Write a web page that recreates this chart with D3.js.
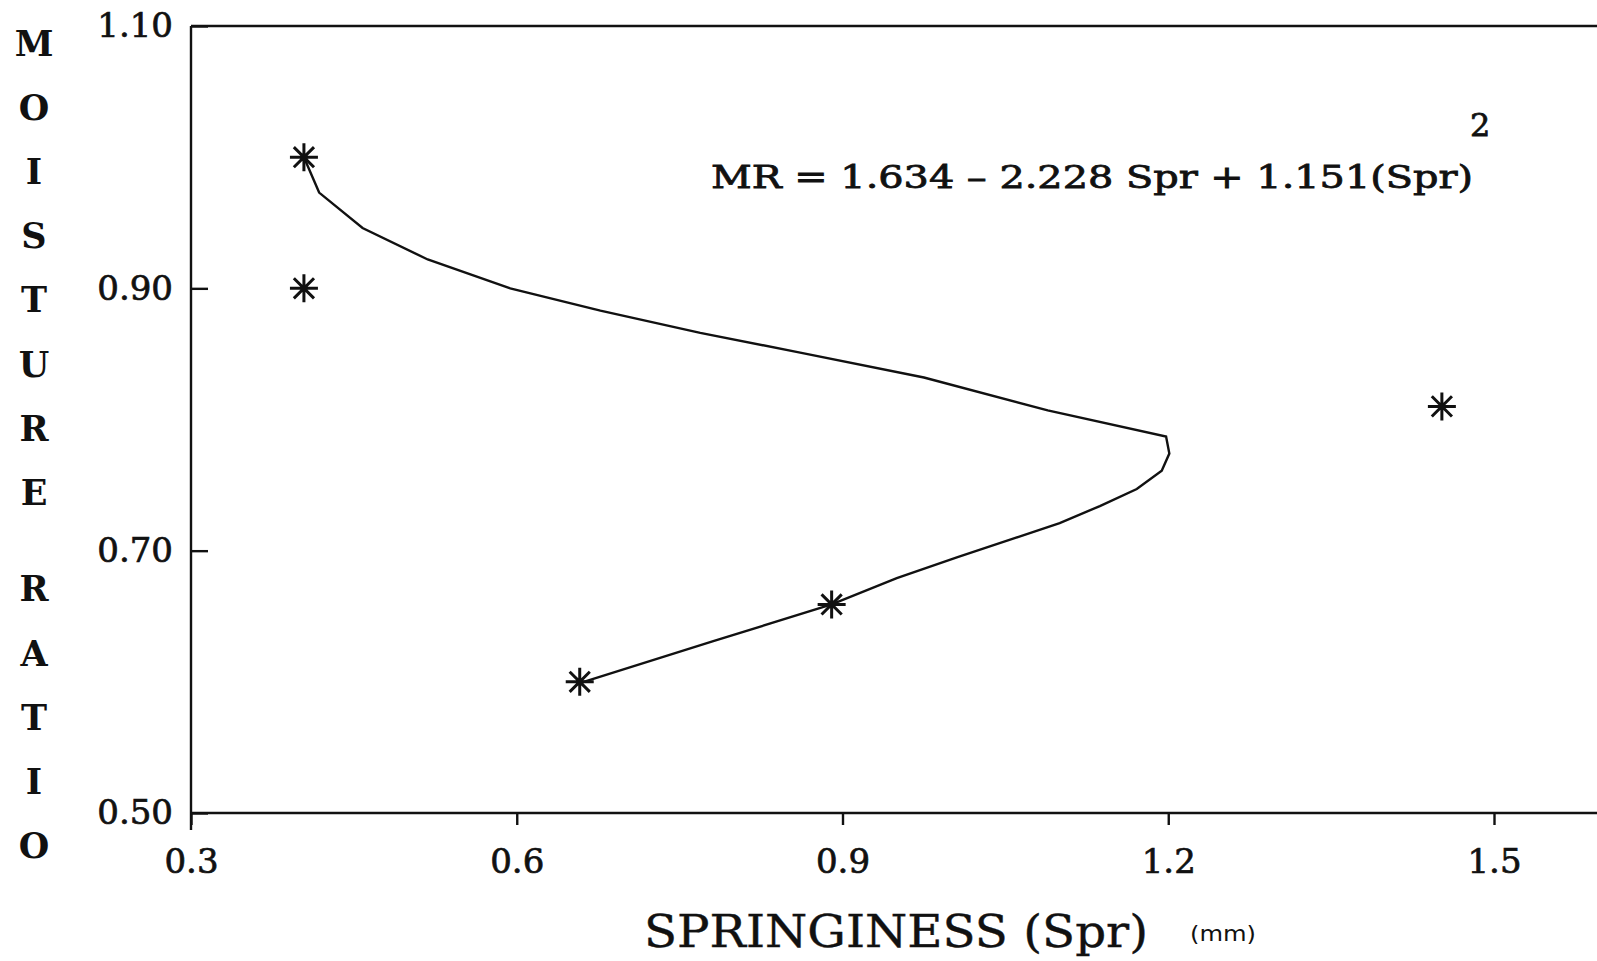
<!DOCTYPE html>
<html>
<head>
<meta charset="utf-8">
<script src="https://cdn.jsdelivr.net/npm/d3@7"></script>
<style>
  body { margin: 0; background: #fff; }
  svg { display: block; }
  .axis text { font-family: "DejaVu Serif", serif; font-size: 34px; fill: #111; stroke: #111; stroke-width: 0.7; }
  .axis path, .axis line { stroke: #111; stroke-width: 2.4; }
  .yLetter { font-family: "DejaVu Serif", serif; font-weight: bold; font-size: 35px; fill: #111; }
  .xTitle { font-family: "DejaVu Serif", serif; font-size: 44px; fill: #111; stroke: #111; stroke-width: 0.4; }
  .unit { font-family: "DejaVu Sans", sans-serif; font-size: 22px; fill: #111; }
  .equation { font-family: "DejaVu Serif", serif; font-size: 32px; fill: #111; stroke: #111; stroke-width: 0.8; }
  .fitLine { fill: none; stroke: #111; stroke-width: 2.4; }
  .obsStar { fill: none; stroke: #111; stroke-width: 3; }
</style>
</head>
<body>
<div class="chart"></div>
<script>
/* global d3 */

// tick values
const sprTicks = [0.3, 0.6, 0.9, 1.2, 1.5]
const mrTicks = [0.5, 0.7, 0.9, 1.1]

// observed points (asterisks)
const obsSpr = [0.404, 0.404, 1.452, 0.890, 0.658]
const obsMR = [1.000, 0.900, 0.810, 0.659, 0.600]

// fitted line in drawing order
const fitSpr = [0.404, 0.418, 0.458, 0.518, 0.594, 0.677, 0.769, 0.861, 0.975, 1.089,
    1.198, 1.201, 1.194, 1.171, 1.137, 1.100, 1.053, 1.006, 0.950, 0.890, 0.781, 0.658]
const fitMR = [1.000, 0.973, 0.946, 0.922, 0.900, 0.883, 0.866, 0.851, 0.832, 0.807,
    0.787, 0.774, 0.761, 0.747, 0.734, 0.721, 0.708, 0.695, 0.679, 0.659, 0.631, 0.599]

const yTitle = ['M', 'O', 'I', 'S', 'T', 'U', 'R', 'E', '', 'R', 'A', 'T', 'I', 'O']
const xTitle = 'SPRINGINESS (Spr)'
const xUnit = '(mm)'
const equation = 'MR = 1.634 \u2013 2.228 Spr + 1.151(Spr)'

const width = 1597
const height = 961

const svg = d3.select('.chart')
    .append('svg')
    .attr('width', width)
    .attr('height', height)

svg.append('rect')
    .attr('width', width)
    .attr('height', height)
    .attr('fill', '#fff')

const xScale = d3.scaleLinear()
    .domain([0.3, 1.5])
    .range([191, 1494])

const yScale = d3.scaleLinear()
    .domain([0.5, 1.1])
    .range([813, 26])

// x axis: ticks hang below, line runs off the right edge
const xAxis = svg.append('g')
    .attr('class', 'axis axis__x')
    .attr('transform', `translate(0, ${yScale(0.5)})`)
    .call(
        d3.axisBottom(xScale)
        .tickValues(sprTicks)
        .tickSize(12)
        .tickSizeOuter(0)
        .tickPadding(36)
        .tickFormat(d3.format('.1f'))
    )
xAxis.select('.domain').attr('d', `M${xScale(0.3)},0H${width}`)
xAxis.selectAll('.tick text').attr('dy', '0.35em')

// y axis: ticks point inward, labels sit left
const yAxis = svg.append('g')
    .attr('class', 'axis axis__y')
    .attr('transform', `translate(${xScale(0.3)}, 0)`)
    .call(
        d3.axisLeft(yScale)
        .tickValues(mrTicks)
        .tickSize(-17)
        .tickSizeOuter(0)
        .tickPadding(18)
        .tickFormat(d3.format('.2f'))
    )
yAxis.select('.domain').attr('d', `M0,${yScale(1.1)}V${yScale(0.5) + 17}`)

// top border
svg.append('line')
    .attr('x1', xScale(0.3))
    .attr('x2', width)
    .attr('y1', yScale(1.1))
    .attr('y2', yScale(1.1))
    .attr('stroke', '#111')
    .attr('stroke-width', 2.4)

// fitted curve
const fitData = fitSpr.map((s, i) => ({ spr: s, mr: fitMR[i] }))
svg.append('path')
    .datum(fitData)
    .attr('class', 'fitLine')
    .attr('d', d3.line()
        .x(d => xScale(d.spr))
        .y(d => yScale(d.mr)))

// eight-armed asterisk
const asterisk = {
    draw(context, size) {
        const r = Math.sqrt(size) / 2
        const q = r * 0.72
        context.moveTo(-r, 0); context.lineTo(r, 0)
        context.moveTo(0, -r); context.lineTo(0, r)
        context.moveTo(-q, -q); context.lineTo(q, q)
        context.moveTo(-q, q); context.lineTo(q, -q)
    }
}

const obsData = obsSpr.map((s, i) => ({ spr: s, mr: obsMR[i] }))
svg.selectAll('.obsStar')
    .data(obsData)
    .join('path')
    .attr('class', 'obsStar')
    .attr('transform', d => `translate(${xScale(d.spr)}, ${yScale(d.mr)})`)
    .attr('d', d3.symbol(asterisk, 28 * 28))

// stacked y title
svg.selectAll('.yLetter')
    .data(yTitle)
    .join('text')
    .attr('class', 'yLetter')
    .attr('x', 34)
    .attr('y', (d, i) => 43 + (i < 8 ? i : i - 0.5) * 64.2)
    .attr('dy', '0.36em')
    .attr('text-anchor', 'middle')
    .text(d => d)

// x title
svg.append('text')
    .attr('class', 'xTitle')
    .attr('x', 644)
    .attr('y', 947)
    .attr('textLength', 504)
    .attr('lengthAdjust', 'spacingAndGlyphs')
    .text(xTitle)

svg.append('text')
    .attr('class', 'unit')
    .attr('x', 1190)
    .attr('y', 941)
    .attr('textLength', 66)
    .attr('lengthAdjust', 'spacingAndGlyphs')
    .text(xUnit)

// regression equation
svg.append('text')
    .attr('class', 'equation')
    .attr('x', 711)
    .attr('y', 188)
    .attr('textLength', 762)
    .attr('lengthAdjust', 'spacingAndGlyphs')
    .text(equation)

svg.append('text')
    .attr('class', 'equation')
    .attr('x', 1470)
    .attr('y', 136)
    .text('2')
</script>
</body>
</html>
